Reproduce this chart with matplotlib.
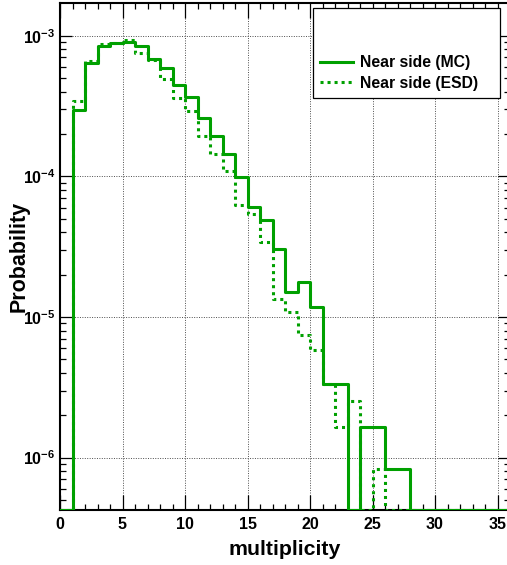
import matplotlib
matplotlib.use("Agg")
import matplotlib.pyplot as plt
import numpy as np
from matplotlib.patches import Rectangle
from matplotlib.ticker import MultipleLocator, LogLocator, NullFormatter, FixedLocator, FuncFormatter

# multiplicity bins: 0..36, width 1
edges = np.arange(0, 37)
mc = [0, 2.96e-4, 6.40e-4, 8.49e-4, 8.88e-4, 8.98e-4, 8.49e-4, 6.83e-4, 5.89e-4,
      4.44e-4, 3.68e-4, 2.58e-4, 1.95e-4, 1.44e-4, 9.87e-5, 6.10e-5, 4.92e-5,
      3.06e-5, 1.51e-5, 1.76e-5, 1.17e-5, 3.33e-6, 3.33e-6, 0, 1.66e-6, 1.66e-6,
      8.3e-7, 8.3e-7, 0, 0, 0, 0, 0, 0, 0, 0]
esd = [0, 3.43e-4, 6.58e-4, 8.69e-4, 8.85e-4, 9.27e-4, 7.57e-4, 6.72e-4, 4.94e-4,
       3.59e-4, 2.90e-4, 1.95e-4, 1.45e-4, 1.10e-4, 6.24e-5, 5.41e-5, 3.42e-5,
       1.34e-5, 1.09e-5, 7.50e-6, 5.81e-6, 3.33e-6, 1.66e-6, 2.51e-6, 0, 8.3e-7,
       0, 0, 0, 0, 0, 0, 0, 0, 0, 0]
labels = ["Near side (MC)", "Near side (ESD)"]

plt.rcParams["font.family"] = ["Liberation Sans", "DejaVu Sans"]
plt.rcParams["font.weight"] = "bold"
plt.rcParams["mathtext.fontset"] = "custom"
plt.rcParams["mathtext.rm"] = "Liberation Sans:bold"
plt.rcParams["mathtext.bf"] = "Liberation Sans:bold"
plt.rcParams["mathtext.it"] = "Liberation Sans:bold:italic"

green = "#00a000"
ymin, ymax = 4.22e-7, 1.70e-3

fig = plt.figure(figsize=(5.07, 5.65), dpi=100)
ax = fig.add_axes([60 / 507, 1 - 510.3 / 565, 450 / 507, 507 / 565])

def stepvals(v):
    v = np.maximum(np.array(v, dtype=float), ymin)
    return np.append(v, v[-1])

ax.step(edges, stepvals(mc), where="post", color=green, lw=2.2,
        label=labels[0], zorder=3)
ax.step(edges, stepvals(esd), where="post", color=green, lw=2.2,
        linestyle=(0, (1, 1.3)), label=labels[1], zorder=3)

ax.set_yscale("log")
ax.set_xlim(0, 36)
ax.set_ylim(ymin, ymax)

ax.xaxis.set_major_locator(MultipleLocator(5))
ax.xaxis.set_minor_locator(MultipleLocator(1))
ax.yaxis.set_major_locator(FixedLocator([1e-6, 1e-5, 1e-4, 1e-3]))
ax.yaxis.set_minor_locator(LogLocator(base=10, subs=np.arange(2, 10)))
ax.yaxis.set_minor_formatter(NullFormatter())
ax.yaxis.set_major_formatter(FuncFormatter(
    lambda v, p: r"$10^{%d}$" % int(round(np.log10(v)))))

ax.tick_params(axis="both", which="both", direction="in", top=True, right=True,
               labelsize=11.5, width=0.9)
ax.tick_params(axis="x", which="major", length=10.8, pad=5)
ax.tick_params(axis="x", which="minor", length=4.5)
ax.tick_params(axis="y", which="major", length=8.6, pad=3.5)
ax.tick_params(axis="y", which="minor", length=4.3)

ax.grid(True, which="major", color="0.3", lw=0.7, linestyle=(0, (1, 1.5)), zorder=1)
ax.set_axisbelow(True)
for s in ax.spines.values():
    s.set_linewidth(1.5)

ax.set_xlabel("multiplicity", fontsize=15.3, fontweight="bold")
ax.set_ylabel("Probability", fontsize=15.5, fontweight="bold")
ax.xaxis.set_label_coords(0.5, -0.058)
ax.yaxis.set_label_coords(-0.067, 0.5)

# ROOT-style legend box
ax.add_patch(Rectangle((313 / 507, 1 - 98 / 565), 187 / 507, 90 / 565,
                       transform=fig.transFigure, facecolor="white",
                       edgecolor="black", lw=0.9, zorder=5, clip_on=False))
leg = ax.legend(loc="upper left", bbox_to_anchor=(320 / 507, 1 - 55 / 565),
                bbox_transform=fig.transFigure, frameon=False, borderpad=0,
                borderaxespad=0, handlelength=2.1, handletextpad=0.45,
                labelspacing=0.38, prop={"size": 11.3, "weight": "bold"})
leg.set_zorder(6)

fig.savefig("out.png", dpi=100)
